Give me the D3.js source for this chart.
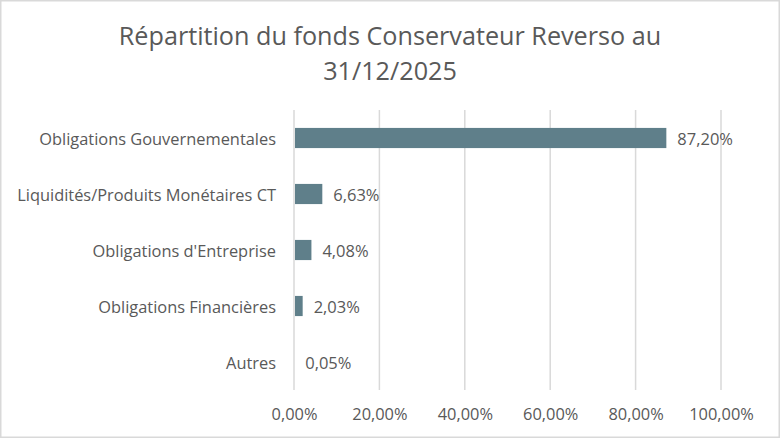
<!DOCTYPE html>
<html><head><meta charset="utf-8">
<script src="https://cdn.jsdelivr.net/npm/d3@7"></script>
<style>body{margin:0;background:#fff;} text{font-family:"Open Sans",sans-serif;}</style>
</head><body>
<svg id="c" width="780" height="438"></svg>
<script>
const titleLines = ["Répartition du fonds Conservateur Reverso au", "31/12/2025"];
const categories = ["Obligations Gouvernementales", "Liquidités/Produits Monétaires CT", "Obligations d'Entreprise", "Obligations Financières", "Autres"];
const values = [87.20, 6.63, 4.08, 2.03, 0.05];
const ticks = [0, 20, 40, 60, 80, 100];

const svg = d3.select("#c");
const W = 780, H = 438;
const textColor = "#595959";
const FONT = "'Open Sans',sans-serif";
const fmt = v => v.toFixed(2).replace(".", ",") + "%";

svg.append("rect").attr("x", 0.75).attr("y", 0.75).attr("width", W - 1.5).attr("height", H - 1.5)
  .attr("fill", "#fff").attr("stroke", "#d9d9d9").attr("stroke-width", 1.5);

svg.selectAll("text.title").data(titleLines).enter().append("text")
  .attr("x", 390).attr("y", (d, i) => 45 + i * 35)
  .attr("text-anchor", "middle").attr("font-size", 25.2).attr("fill", textColor).text(d => d);

const x = d3.scaleLinear().domain([0, 100]).range([294, 721]);
const y = d3.scaleBand().domain(categories).range([110, 390]).paddingInner(0.64).paddingOuter(0.32);

// gridlines
svg.append("g").selectAll("line").data(ticks).enter().append("line")
  .attr("x1", d => x(d)).attr("x2", d => x(d)).attr("y1", 110).attr("y2", 390)
  .attr("stroke", "#d9d9d9").attr("stroke-width", 1.5);

// bars
svg.append("g").selectAll("rect").data(values).enter().append("rect")
  .attr("x", x(0) + 1).attr("y", (d, i) => y(categories[i]))
  .attr("width", d => Math.max(0, x(d) - x(0) - 1)).attr("height", y.bandwidth())
  .attr("fill", "#5f7f8a");

// data labels
svg.append("g").selectAll("text").data(values).enter().append("text")
  .attr("x", d => x(d) + 11).attr("y", (d, i) => y(categories[i]) + y.bandwidth() / 2)
  .attr("dy", "0.4em").attr("font-size", 16.5).attr("fill", textColor).text(d => fmt(d));

// category axis
const yAxis = svg.append("g").attr("transform", `translate(${x(0)},0)`)
  .call(d3.axisLeft(y).tickSize(0).tickPadding(18));
yAxis.select(".domain").remove();
yAxis.selectAll("text").attr("font-size", 16.4).attr("dy", "0.4em").attr("fill", textColor).style("font-family", FONT);

// value axis
const xAxis = svg.append("g").attr("transform", `translate(0,390)`)
  .call(d3.axisBottom(x).tickValues(ticks).tickSize(0).tickPadding(18).tickFormat(d => fmt(d)));
xAxis.select(".domain").remove();
xAxis.selectAll("text").attr("font-size", 16.4).attr("fill", textColor).style("font-family", FONT);
</script>
</body></html>
